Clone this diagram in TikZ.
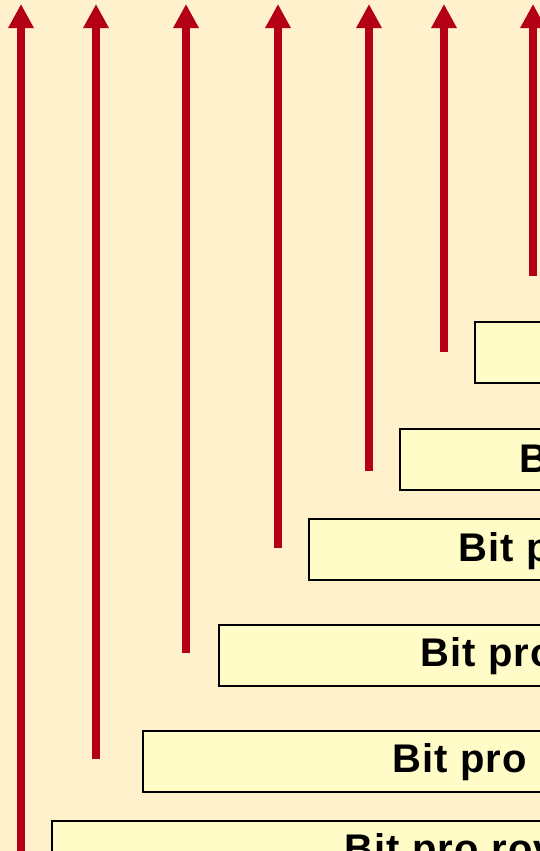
\documentclass[tikz,border=0pt]{standalone}
\usepackage{fontspec}
\usetikzlibrary{arrows.meta}
\newfontfamily\labelfont{Liberation Sans}[LetterSpace=3]
\definecolor{bgpeach}{RGB}{255,241,203}
\definecolor{boxfill}{RGB}{255,252,199}
\definecolor{arrred}{RGB}{180,0,20}
\tikzset{
  levelbox/.style={draw=black, line width=2.8bp, fill=boxfill, anchor=north west,
    minimum width=200bp, minimum height=61bp, inner sep=0pt},
  boxlabel/.style={anchor=base west, inner sep=0pt,
    font=\labelfont\bfseries\fontsize{40bp}{46bp}\selectfont},
  uparrow/.style={draw=arrred, line width=8bp,
    -{Triangle[width=24bp, length=24bp, fill=arrred]}},
}
\begin{document}
\begin{tikzpicture}[x=1bp, y=-1bp]
  \fill[bgpeach] (0,0) rectangle (540,851);
  \useasboundingbox (0,0) rectangle (540,851);
  \clip (0,0) rectangle (540,851);

  % stepped boxes, each one reaching past the right edge
  \node[levelbox, minimum width=120bp] (boxA) at (473.5,320.5) {};
  \node[levelbox, minimum width=200bp] (boxB) at (398.5,427.5) {};
  \node[levelbox, minimum width=290bp] (boxC) at (307.5,517.5) {};
  \node[levelbox, minimum width=380bp] (boxD) at (217.5,623.5) {};
  \node[levelbox, minimum width=460bp] (boxE) at (141.5,729.5) {};
  \node[levelbox, minimum width=550bp] (boxF) at (50.5,819.5) {};

  % box labels
  \node[boxlabel] (labB) at (519,472) {Bit};
  \node[boxlabel] (labC) at (458,561) {Bit pro};
  \node[boxlabel] (labD) at (420,666) {Bit pro};
  \node[boxlabel] (labE) at (392,772) {Bit pro};
  \node[boxlabel] (labF) at (344,862) {Bit pro rov};

  % arrow feet and tips
  \coordinate (s1) at (21,860);  \coordinate (t1) at (21,4);
  \coordinate (s2) at (96,759);  \coordinate (t2) at (96,4);
  \coordinate (s3) at (186,653); \coordinate (t3) at (186,4);
  \coordinate (s4) at (278,548); \coordinate (t4) at (278,4);
  \coordinate (s5) at (369,471); \coordinate (t5) at (369,4);
  \coordinate (s6) at (444,352); \coordinate (t6) at (444,4);
  \coordinate (s7) at (533,276); \coordinate (t7) at (533,4);

  \foreach \i in {1,...,7} {
    \draw[uparrow] (s\i) -- (t\i);
  }
\end{tikzpicture}
\end{document}
